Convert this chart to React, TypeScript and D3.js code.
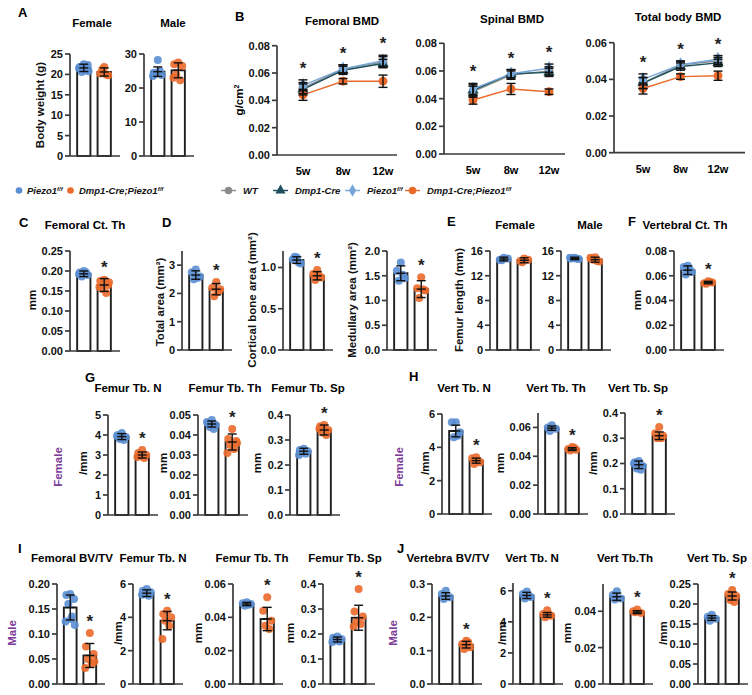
import React from "react";
import * as d3 from "d3";

const BLUE = "#5b8fd4";
const ORANGE = "#eb6a2b";
const PURPLE = "#7d3c98";
const FONT = "'Liberation Sans', Arial, Helvetica, sans-serif";
const NARROW = "'Liberation Sans Narrow', 'Liberation Sans', Arial, sans-serif";

// ---------- B: BMD time course ----------
const weeks = ["5w", "8w", "12w"];
const lineSeries = ["WT", "Dmp1-Cre", "Piezo1", "Dmp1-Cre;Piezo1"];
const lineColors = ["#8c8c8c", "#1d4f5c", "#74a6d9", ORANGE];
const lineShapes = [d3.symbolCircle, d3.symbolTriangle, d3.symbolDiamond, d3.symbolCircle];

const femBmdMean = [[0.049, 0.063, 0.068], [0.048, 0.062, 0.067], [0.051, 0.063, 0.069], [0.044, 0.054, 0.054]];
const femBmdSd = [[0.004, 0.003, 0.004], [0.004, 0.003, 0.003], [0.004, 0.003, 0.004], [0.004, 0.002, 0.0045]];
const spiBmdMean = [[0.045, 0.057, 0.060], [0.046, 0.058, 0.059], [0.047, 0.058, 0.062], [0.039, 0.047, 0.045]];
const spiBmdSd = [[0.004, 0.003, 0.003], [0.004, 0.003, 0.003], [0.004, 0.003, 0.003], [0.003, 0.004, 0.002]];
const totBmdMean = [[0.038, 0.048, 0.050], [0.038, 0.047, 0.049], [0.040, 0.048, 0.051], [0.035, 0.0415, 0.042]];
const totBmdSd = [[0.003, 0.002, 0.002], [0.003, 0.002, 0.002], [0.003, 0.002, 0.002], [0.003, 0.0015, 0.0025]];

// ---------- bar panels: [Piezo1 f/f, Dmp1-Cre;Piezo1 f/f] ----------
const bwFemMean = [21.6, 20.6], bwFemSd = [0.9, 1.0];
const bwFemPts = [[22.5, 21.8, 22.3, 20.6, 21.0, 21.5, 20.8, 22.0], [21.8, 20.2, 19.8, 21.2, 20.0]];
const bwMaleMean = [24.8, 25.2], bwMaleSd = [1.4, 2.2];
const bwMalePts = [[28.2, 24.5, 23.8, 24.2, 25.0, 23.5], [27.5, 27.0, 26.5, 24.0, 22.3, 23.0]];

const ctThMean = [0.193, 0.165], ctThSd = [0.007, 0.016];
const ctThPts = [[0.200, 0.196, 0.190, 0.186, 0.197, 0.192], [0.178, 0.175, 0.165, 0.155, 0.145, 0.160, 0.172]];
const totAreaMean = [2.65, 2.15], totAreaSd = [0.15, 0.2];
const totAreaPts = [[2.85, 2.75, 2.6, 2.5, 2.55], [2.4, 2.2, 2.15, 1.9, 2.05]];
const cortAreaMean = [1.09, 0.9], cortAreaSd = [0.04, 0.05];
const cortAreaPts = [[1.12, 1.10, 1.05, 1.13, 1.06], [0.97, 0.92, 0.88, 0.85, 0.90]];
const medAreaMean = [1.55, 1.23], medAreaSd = [0.15, 0.17];
const medAreaPts = [[1.77, 1.6, 1.45, 1.40, 1.52], [1.47, 1.25, 1.20, 1.05, 1.22]];
const flFemMean = [14.7, 14.5], flFemSd = [0.3, 0.4];
const flFemPts = [[14.9, 14.6, 14.8, 14.5], [14.8, 14.4, 14.6, 14.2]];
const flMaleMean = [14.8, 14.6], flMaleSd = [0.2, 0.4];
const flMalePts = [[14.9, 14.8, 14.7, 14.85, 14.75, 14.9], [15.0, 14.8, 14.3, 14.6, 14.4, 14.9]];
const vCtThMean = [0.0645, 0.0545], vCtThSd = [0.0035, 0.001];
const vCtThPts = [[0.068, 0.067, 0.063, 0.061, 0.065], [0.0555, 0.054, 0.0545, 0.0535, 0.055]];

const gTbNMean = [3.92, 3.0], gTbNSd = [0.15, 0.15];
const gTbNPts = [[4.1, 4.0, 3.9, 3.8, 3.75, 3.95], [3.25, 3.1, 3.0, 2.95, 2.85, 2.9]];
const gTbThMean = [0.0455, 0.0365], gTbThSd = [0.0015, 0.004];
const gTbThPts = [[0.0475, 0.046, 0.045, 0.044, 0.043, 0.0465], [0.043, 0.038, 0.037, 0.035, 0.033, 0.031, 0.036]];
const gTbSpMean = [0.255, 0.34], gTbSpSd = [0.012, 0.02];
const gTbSpPts = [[0.265, 0.26, 0.255, 0.25, 0.245, 0.24], [0.36, 0.355, 0.34, 0.33, 0.32, 0.345]];

const hTbNMean = [4.98, 3.2], hTbNSd = [0.35, 0.15];
const hTbNPts = [[5.5, 5.5, 4.9, 4.6, 4.7], [3.4, 3.35, 3.1, 3.0, 3.2]];
const hTbThMean = [0.0595, 0.045], hTbThSd = [0.0015, 0.001];
const hTbThPts = [[0.0615, 0.060, 0.059, 0.0575], [0.0465, 0.045, 0.0445, 0.044, 0.046]];
const hTbSpMean = [0.195, 0.31], hTbSpSd = [0.015, 0.015];
const hTbSpPts = [[0.21, 0.205, 0.19, 0.18, 0.175, 0.2], [0.345, 0.32, 0.31, 0.3, 0.3]];

const iBvMean = [0.153, 0.057], iBvSd = [0.025, 0.024];
const iBvPts = [[0.18, 0.178, 0.17, 0.16, 0.135, 0.125, 0.118, 0.13], [0.102, 0.075, 0.06, 0.05, 0.04, 0.032, 0.045]];
const iTbNMean = [5.45, 3.8], iTbNSd = [0.2, 0.55];
const iTbNPts = [[5.7, 5.6, 5.5, 5.4, 5.3, 5.35], [4.4, 4.2, 4.0, 3.8, 3.5, 2.7]];
const iTbThMean = [0.048, 0.039], iTbThSd = [0.001, 0.007];
const iTbThPts = [[0.049, 0.0485, 0.048, 0.047, 0.0475], [0.052, 0.044, 0.038, 0.035, 0.033]];
const iTbSpMean = [0.178, 0.265], iTbSpSd = [0.01, 0.05];
const iTbSpPts = [[0.19, 0.185, 0.18, 0.175, 0.17, 0.168], [0.38, 0.29, 0.27, 0.25, 0.24, 0.23]];

const jBvMean = [0.264, 0.118], jBvSd = [0.01, 0.01];
const jBvPts = [[0.28, 0.27, 0.26, 0.255], [0.13, 0.12, 0.11, 0.105, 0.125]];
const jTbNMean = [5.7, 4.45], jTbNSd = [0.2, 0.15];
const jTbNPts = [[5.95, 5.8, 5.6, 5.5, 5.65], [4.75, 4.5, 4.4, 4.3, 4.45]];
const jTbThMean = [0.048, 0.0395], jTbThSd = [0.002, 0.0008];
const jTbThPts = [[0.051, 0.049, 0.047, 0.0465], [0.041, 0.040, 0.039, 0.0395]];
const jTbSpMean = [0.165, 0.22], jTbSpSd = [0.006, 0.01];
const jTbSpPts = [[0.173, 0.168, 0.163, 0.158], [0.235, 0.225, 0.22, 0.21, 0.205]];

const jitter = [0, -0.3, 0.3, -0.15, 0.15, -0.36, 0.36, 0.06];

type BarP = {
  ax: number; top: number; bot: number; max: number; ticks: number[]; fmt: string;
  mean: number[]; sd: number[]; pts: number[][]; star?: boolean;
  title?: string; tx?: number; ty?: number;
  ylab?: string; yx?: number; yy?: number; w?: number;
};

const bars: BarP[] = [
  // A
  { ax: 70, top: 54, bot: 156, max: 25, ticks: [0, 5, 10, 15, 20, 25], fmt: "d", mean: bwFemMean, sd: bwFemSd, pts: bwFemPts, title: "Female", tx: 92, ty: 27, ylab: "Body weight (g)", yx: 40, yy: 105 },
  { ax: 144, top: 54, bot: 156, max: 30, ticks: [0, 10, 20, 30], fmt: "d", mean: bwMaleMean, sd: bwMaleSd, pts: bwMalePts, title: "Male", tx: 173, ty: 27 },
  // C
  { ax: 70, top: 251, bot: 351, max: 0.25, ticks: [0, 0.05, 0.1, 0.15, 0.2, 0.25], fmt: ".2f", mean: ctThMean, sd: ctThSd, pts: ctThPts, star: true, title: "Femoral Ct. Th", tx: 85, ty: 229, ylab: "mm", yx: 32, yy: 300 },
  // D
  { ax: 182, top: 251, bot: 350, max: 3.5, ticks: [0, 1, 2, 3], fmt: "d", mean: totAreaMean, sd: totAreaSd, pts: totAreaPts, star: true, ylab: "Total area (mm²)", yx: 160, yy: 302 },
  { ax: 283, top: 251, bot: 350, max: 1.2, ticks: [0, 0.5, 1], fmt: ".1f", mean: cortAreaMean, sd: cortAreaSd, pts: cortAreaPts, star: true, ylab: "Cortical bone area (mm²)", yx: 252, yy: 300 },
  { ax: 387, top: 251, bot: 350, max: 2, ticks: [0, 0.5, 1, 1.5, 2], fmt: ".1f", mean: medAreaMean, sd: medAreaSd, pts: medAreaPts, star: true, ylab: "Medullary area (mm²)", yx: 352, yy: 300 },
  // E
  { ax: 490, top: 251, bot: 350, max: 16, ticks: [0, 4, 8, 12, 16], fmt: "d", mean: flFemMean, sd: flFemSd, pts: flFemPts, title: "Female", tx: 515, ty: 229, ylab: "Femur length (mm)", yx: 459, yy: 300 },
  { ax: 561, top: 251, bot: 350, max: 16, ticks: [0, 4, 8, 12, 16], fmt: "d", mean: flMaleMean, sd: flMaleSd, pts: flMalePts, title: "Male", tx: 590, ty: 229 },
  // F
  { ax: 674, top: 251, bot: 350, max: 0.08, ticks: [0, 0.02, 0.04, 0.06, 0.08], fmt: ".2f", mean: vCtThMean, sd: vCtThSd, pts: vCtThPts, star: true, title: "Vertebral Ct. Th", tx: 685, ty: 229, ylab: "mm", yx: 637, yy: 300 },
  // G
  { ax: 108, top: 415, bot: 515, max: 5, ticks: [0, 1, 2, 3, 4, 5], fmt: "d", mean: gTbNMean, sd: gTbNSd, pts: gTbNPts, star: true, title: "Femur Tb. N", tx: 128, ty: 392, ylab: "/mm", yx: 83, yy: 463 },
  { ax: 198, top: 415, bot: 515, max: 0.05, ticks: [0, 0.01, 0.02, 0.03, 0.04, 0.05], fmt: ".2f", mean: gTbThMean, sd: gTbThSd, pts: gTbThPts, star: true, title: "Femur Tb. Th", tx: 225, ty: 392, ylab: "mm", yx: 163, yy: 463 },
  { ax: 290, top: 415, bot: 515, max: 0.4, ticks: [0, 0.1, 0.2, 0.3, 0.4], fmt: ".1f", mean: gTbSpMean, sd: gTbSpSd, pts: gTbSpPts, star: true, title: "Femur Tb. Sp", tx: 308, ty: 392, ylab: "mm", yx: 257, yy: 463 },
  // H
  { ax: 442, top: 414, bot: 514, max: 6, ticks: [0, 2, 4, 6], fmt: "d", mean: hTbNMean, sd: hTbNSd, pts: hTbNPts, star: true, title: "Vert Tb. N", tx: 464, ty: 392, ylab: "/mm", yx: 425, yy: 463 },
  { ax: 538, top: 413, bot: 514, max: 0.07, ticks: [0, 0.02, 0.04, 0.06], fmt: ".2f", mean: hTbThMean, sd: hTbThSd, pts: hTbThPts, star: true, title: "Vert Tb. Th", tx: 556, ty: 392, ylab: "mm", yx: 500, yy: 463 },
  { ax: 625, top: 413, bot: 514, max: 0.4, ticks: [0, 0.1, 0.2, 0.3, 0.4], fmt: ".1f", mean: hTbSpMean, sd: hTbSpSd, pts: hTbSpPts, star: true, title: "Vert Tb. Sp", tx: 638, ty: 392, ylab: "/mm", yx: 593, yy: 463 },
  // I
  { ax: 57, top: 584, bot: 684, max: 0.2, ticks: [0, 0.05, 0.1, 0.15, 0.2], fmt: ".2f", mean: iBvMean, sd: iBvSd, pts: iBvPts, star: true, title: "Femoral BV/TV", tx: 72, ty: 562, w: 46 },
  { ax: 133, top: 584, bot: 684, max: 6, ticks: [0, 2, 4, 6], fmt: "d", mean: iTbNMean, sd: iTbNSd, pts: iTbNPts, star: true, title: "Femur Tb. N", tx: 153, ty: 562, ylab: "/mm", yx: 118, yy: 633 },
  { ax: 233, top: 584, bot: 684, max: 0.06, ticks: [0, 0.02, 0.04, 0.06], fmt: ".2f", mean: iTbThMean, sd: iTbThSd, pts: iTbThPts, star: true, title: "Femur Tb. Th", tx: 252, ty: 562, ylab: "mm", yx: 198, yy: 633 },
  { ax: 323, top: 584, bot: 684, max: 0.4, ticks: [0, 0.1, 0.2, 0.3, 0.4], fmt: ".1f", mean: iTbSpMean, sd: iTbSpSd, pts: iTbSpPts, star: true, title: "Femur Tb. Sp", tx: 345, ty: 562, ylab: "mm", yx: 290, yy: 633, w: 50 },
  // J
  { ax: 432, top: 584, bot: 684, max: 0.3, ticks: [0, 0.1, 0.2, 0.3], fmt: ".1f", mean: jBvMean, sd: jBvSd, pts: jBvPts, star: true, title: "Vertebra BV/TV", tx: 448, ty: 562 },
  { ax: 513, top: 583, bot: 684, max: 6.5, ticks: [0, 2, 4, 6], fmt: "d", mean: jTbNMean, sd: jTbNSd, pts: jTbNPts, star: true, title: "Vert Tb. N", tx: 532, ty: 562, ylab: "/mm", yx: 502, yy: 633 },
  { ax: 603, top: 584, bot: 684, max: 0.055, ticks: [0, 0.02, 0.04], fmt: ".2f", mean: jTbThMean, sd: jTbThSd, pts: jTbThPts, star: true, title: "Vert Tb.Th", tx: 625, ty: 562, ylab: "mm", yx: 567, yy: 633 },
  { ax: 698, top: 584, bot: 684, max: 0.25, ticks: [0, 0.05, 0.1, 0.15, 0.2, 0.25], fmt: ".2f", mean: jTbSpMean, sd: jTbSpSd, pts: jTbSpPts, star: true, title: "Vert Tb. Sp", tx: 717, ty: 562, ylab: "/mm", yx: 663, yy: 633 },
];

type LineP = {
  ax: number; ax1: number; padL: number; padR: number; top: number; bot: number; max: number; ticks: number[];
  mean: number[][]; sd: number[][]; title: string; tx: number; ty: number; ylab?: string;
};

const lines: LineP[] = [
  { ax: 277, ax1: 397, padL: 26, padR: 14, top: 45.7, bot: 155, max: 0.08, ticks: [0, 0.02, 0.04, 0.06, 0.08], mean: femBmdMean, sd: femBmdSd, title: "Femoral BMD", tx: 342, ty: 25, ylab: "g/cm" },
  { ax: 444, ax1: 565, padL: 29, padR: 16, top: 43.3, bot: 154, max: 0.08, ticks: [0, 0.02, 0.04, 0.06, 0.08], mean: spiBmdMean, sd: spiBmdSd, title: "Spinal BMD", tx: 512, ty: 23 },
  { ax: 614, ax1: 745, padL: 29, padR: 27, top: 42.7, bot: 152.7, max: 0.06, ticks: [0, 0.02, 0.04, 0.06], mean: totBmdMean, sd: totBmdSd, title: "Total body BMD", tx: 678, ty: 21 },
];

const AXIS = "#3a3a3a";
const tickFont = { fontFamily: FONT, fontWeight: 700, fontSize: 11 } as const;

function YAxis({ ax, y, ticks, fmt }: { ax: number; y: d3.ScaleLinear<number, number>; ticks: number[]; fmt: (v: number) => string }) {
  const [b, t] = y.range();
  return (
    <g>
      <line x1={ax} x2={ax} y1={b} y2={t} stroke={AXIS} strokeWidth={1.7} />
      {ticks.map((v) => (
        <g key={v}>
          <line x1={ax - 5} x2={ax} y1={y(v)} y2={y(v)} stroke={AXIS} strokeWidth={1.7} />
          <text x={ax - 7} y={y(v)} dy="0.36em" textAnchor="end" {...tickFont} fill="#111">{fmt(v)}</text>
        </g>
      ))}
    </g>
  );
}

function Star({ x, y }: { x: number; y: number }) {
  return <text x={x} y={y} textAnchor="middle" fontFamily={FONT} fontWeight={700} fontSize={17} fill="#222">*</text>;
}

function Label({ x, y, text, color = "#111", size = 11.5 }: { x: number; y: number; text: string; color?: string; size?: number }) {
  return (
    <text transform={`translate(${x},${y}) rotate(-90)`} dy="0.35em" textAnchor="middle" fontFamily={FONT} fontWeight={700} fontSize={size} fill={color}>{text}</text>
  );
}

function BarPanel({ p }: { p: BarP }) {
  const x = d3.scaleBand<number>().domain([0, 1]).range([p.ax, p.ax + (p.w ?? 48)]).paddingInner(0.35).paddingOuter(0.35);
  const y = d3.scaleLinear().domain([0, p.max]).range([p.bot, p.top]);
  const bw = x.bandwidth();
  const fmt = d3.format(p.fmt);
  const colors = [BLUE, ORANGE];
  return (
    <g>
      {p.mean.map((m, i) => (
        <rect key={i} x={x(i)!} y={y(m)} width={bw} height={y(0) - y(m)} fill="#fff" stroke="#1e1e1e" strokeWidth={1.9} />
      ))}
      {p.pts.map((ps, i) =>
        ps.map((v, k) => (
          <circle key={`${i}-${k}`} cx={x(i)! + bw / 2 + jitter[k % jitter.length] * bw} cy={y(v)} r={4} fill={colors[i]} fillOpacity={0.9} />
        ))
      )}
      {p.mean.map((m, i) => {
        const cx = x(i)! + bw / 2;
        return (
          <g key={i} stroke="#111" strokeWidth={1.4}>
            <line x1={cx} x2={cx} y1={y(m - p.sd[i])} y2={y(m + p.sd[i])} />
            <line x1={cx - 4.5} x2={cx + 4.5} y1={y(m - p.sd[i])} y2={y(m - p.sd[i])} />
            <line x1={cx - 4.5} x2={cx + 4.5} y1={y(m + p.sd[i])} y2={y(m + p.sd[i])} />
            <line x1={cx - 4.5} x2={cx + 4.5} y1={y(m)} y2={y(m)} />
          </g>
        );
      })}
      <line x1={p.ax} x2={p.ax + (p.w ?? 48) + 2} y1={p.bot} y2={p.bot} stroke={AXIS} strokeWidth={1.7} />
      <YAxis ax={p.ax} y={y} ticks={p.ticks} fmt={fmt} />
      {p.star && (
        <Star x={x(1)! + bw / 2} y={y(Math.max(p.mean[1] + p.sd[1], ...p.pts[1])) - 6} />
      )}
      {p.title && (
        <text x={p.tx} y={p.ty} textAnchor="middle" fontFamily={FONT} fontWeight={700} fontSize={11.5}>{p.title}</text>
      )}
      {p.ylab && <Label x={p.yx!} y={p.yy!} text={p.ylab} />}
    </g>
  );
}

function LinePanel({ p }: { p: LineP }) {
  const x = d3.scalePoint<string>().domain(weeks).range([p.ax + p.padL, p.ax1 - p.padR]);
  const y = d3.scaleLinear().domain([0, p.max]).range([p.bot, p.top]);
  const line = d3.line<number>().x((_, i) => x(weeks[i])!).y((d) => y(d));
  const fmt = d3.format(".2f");
  return (
    <g>
      <line x1={p.ax} x2={p.ax1} y1={p.bot} y2={p.bot} stroke={AXIS} strokeWidth={1.7} />
      <YAxis ax={p.ax} y={y} ticks={p.ticks} fmt={fmt} />
      {weeks.map((w) => (
        <text key={w} x={x(w)} y={p.bot + 20} textAnchor="middle" {...tickFont}>{w}</text>
      ))}
      {p.mean.map((s, i) => (
        <path key={i} d={line(s)!} fill="none" stroke={lineColors[i]} strokeWidth={1.4} />
      ))}
      {p.mean.map((s, i) =>
        s.map((v, k) => (
          <path key={`${i}-${k}`} transform={`translate(${x(weeks[k])},${y(v)})`} d={d3.symbol(lineShapes[i], i === 1 ? 55 : 62)()!} fill={lineColors[i]} />
        ))
      )}
      {p.mean.map((s, i) =>
        s.map((v, k) => {
          const cx = x(weeks[k])!;
          const lo = y(v - p.sd[i][k]);
          const hi = y(v + p.sd[i][k]);
          return (
            <g key={`e${i}-${k}`} stroke="#111" strokeWidth={1.4}>
              <line x1={cx} x2={cx} y1={lo} y2={hi} />
              <line x1={cx - 4.5} x2={cx + 4.5} y1={lo} y2={lo} />
              <line x1={cx - 4.5} x2={cx + 4.5} y1={hi} y2={hi} />
            </g>
          );
        })
      )}
      {weeks.map((w, k) => (
        <Star key={w} x={x(w)!} y={y(d3.max(p.mean, (s, i) => s[k] + p.sd[i][k])!) - 6} />
      ))}
      <text x={p.tx} y={p.ty} textAnchor="middle" fontFamily={FONT} fontWeight={700} fontSize={11.5}>{p.title}</text>
      {p.ylab && (
        <text transform={`translate(239,100) rotate(-90)`} dy="0.35em" textAnchor="middle" fontFamily={FONT} fontWeight={700} fontSize={11.5}>
          {p.ylab}<tspan dy={-4} fontSize={7}>2</tspan>
        </text>
      )}
    </g>
  );
}

function Geno({ x, y, base }: { x: number; y: number; base: string }) {
  return (
    <text x={x} y={y} fontFamily={NARROW} fontStyle="italic" fontWeight={700} fontSize={9.5} fill="#111">
      {base}
      {base.includes("Piezo1") && <tspan dy={-3.5} fontSize={6}>f/f</tspan>}
    </text>
  );
}

const letters = [
  { t: "A", x: 18, y: 17 }, { t: "B", x: 235, y: 21 }, { t: "C", x: 19, y: 227 }, { t: "D", x: 162, y: 227 },
  { t: "E", x: 447, y: 226 }, { t: "F", x: 628, y: 226 }, { t: "G", x: 85, y: 382 }, { t: "H", x: 409, y: 381 },
  { t: "I", x: 18, y: 553 }, { t: "J", x: 397, y: 553 },
];

const lineLegendX = [221, 273, 345, 405];

export default function App() {
  return (
    <svg width={752} height={695} style={{ position: "absolute", left: 0, top: 0, background: "#fff" }}>
      <rect width={752} height={695} fill="#fff" />
      {letters.map((l) => (
        <text key={l.t} x={l.x} y={l.y} fontFamily={FONT} fontWeight={700} fontSize={13}>{l.t}</text>
      ))}
      {bars.map((p, i) => <BarPanel key={i} p={p} />)}
      {lines.map((p, i) => <LinePanel key={i} p={p} />)}

      {/* left legend */}
      <circle cx={19} cy={190.5} r={3.3} fill={BLUE} />
      <Geno x={27} y={194} base="Piezo1" />
      <circle cx={70.5} cy={190.5} r={3.3} fill={ORANGE} />
      <Geno x={79} y={194} base="Dmp1-Cre;Piezo1" />

      {/* right legend */}
      {lineSeries.map((s, i) => {
        const lx = lineLegendX[i];
        return (
          <g key={s}>
            <line x1={lx} x2={lx + 15} y1={190.5} y2={190.5} stroke={lineColors[i]} strokeWidth={1.4} />
            <path transform={`translate(${lx + 7.5},190.5)`} d={d3.symbol(lineShapes[i], 45)()!} fill={lineColors[i]} />
            <Geno x={lx + 22} y={194} base={s} />
          </g>
        );
      })}

      <Label x={58} y={467} text="Female" color={PURPLE} />
      <Label x={399} y={467} text="Female" color={PURPLE} />
      <Label x={12} y={633} text="Male" color={PURPLE} />
      <Label x={393} y={633} text="Male" color={PURPLE} />
    </svg>
  );
}
